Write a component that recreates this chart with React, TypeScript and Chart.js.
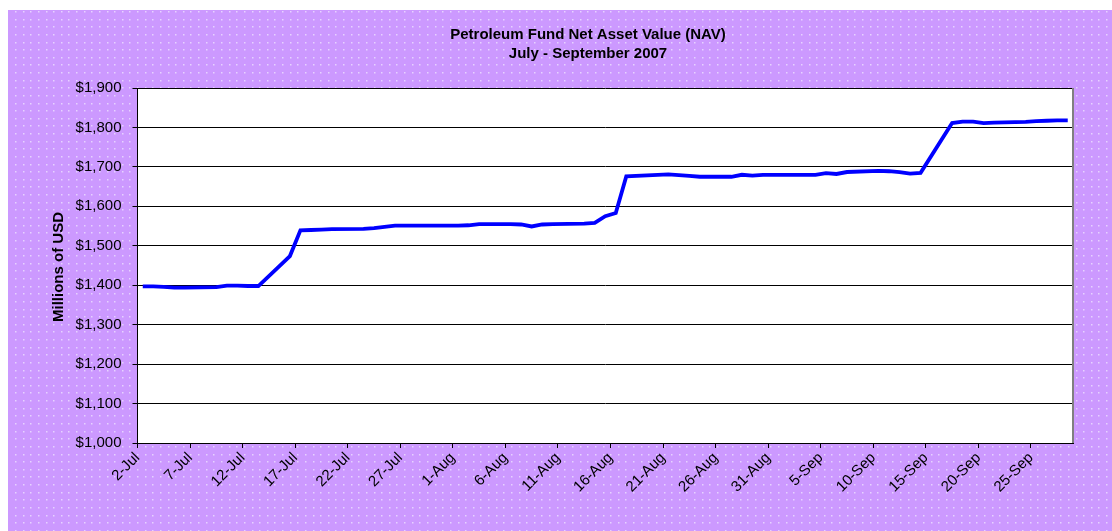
import { useEffect, useRef } from "react";
import { Chart, registerables } from "chart.js";

Chart.register(...registerables);

// Business days, July - September 2007
const dates: string[] = [
  "2007-07-02", "2007-07-03", "2007-07-04", "2007-07-05", "2007-07-06",
  "2007-07-09", "2007-07-10", "2007-07-11", "2007-07-12", "2007-07-13",
  "2007-07-16", "2007-07-17", "2007-07-18", "2007-07-19", "2007-07-20",
  "2007-07-23", "2007-07-24", "2007-07-25", "2007-07-26", "2007-07-27",
  "2007-07-30", "2007-07-31", "2007-08-01", "2007-08-02", "2007-08-03",
  "2007-08-06", "2007-08-07", "2007-08-08", "2007-08-09", "2007-08-10",
  "2007-08-13", "2007-08-14", "2007-08-15", "2007-08-16", "2007-08-17",
  "2007-08-20", "2007-08-21", "2007-08-22", "2007-08-23", "2007-08-24",
  "2007-08-27", "2007-08-28", "2007-08-29", "2007-08-30", "2007-08-31",
  "2007-09-03", "2007-09-04", "2007-09-05", "2007-09-06", "2007-09-07",
  "2007-09-10", "2007-09-11", "2007-09-12", "2007-09-13", "2007-09-14",
  "2007-09-17", "2007-09-18", "2007-09-19", "2007-09-20", "2007-09-21",
  "2007-09-24", "2007-09-25", "2007-09-26", "2007-09-27", "2007-09-28",
];

// NAV, millions of USD
const navValues: number[] = [
  1397, 1397, 1396, 1394, 1394,
  1395, 1399, 1399, 1398, 1398,
  1474, 1539, 1540, 1541, 1542,
  1543, 1545, 1548, 1551, 1551,
  1551, 1551, 1551, 1552, 1555,
  1555, 1554, 1549, 1554, 1555,
  1556, 1558, 1575, 1583, 1676,
  1680, 1681, 1679, 1677, 1675,
  1675, 1680, 1678, 1680, 1680,
  1680, 1680, 1684, 1682, 1687,
  1690, 1689, 1687, 1683, 1685,
  1811, 1815, 1815, 1811, 1812,
  1814, 1816, 1817, 1818, 1818,
];

const tickLabels: string[] = [
  "2-Jul", "7-Jul", "12-Jul", "17-Jul", "22-Jul", "27-Jul",
  "1-Aug", "6-Aug", "11-Aug", "16-Aug", "21-Aug", "26-Aug", "31-Aug",
  "5-Sep", "10-Sep", "15-Sep", "20-Sep", "25-Sep",
];

const titleLines: string[] = ["Petroleum Fund Net Asset Value (NAV)", "July - September 2007"];
const yAxisTitle = "Millions of USD";

const START = Date.UTC(2007, 6, 2);
const dayIndex = (s: string) => {
  const [y, m, d] = s.split("-").map(Number);
  return Math.round((Date.UTC(y, m - 1, d) - START) / 86400000);
};

const FONT = '"Liberation Sans", Arial, sans-serif';
const W = 1104;
const H = 521;

export default function App() {
  const ref = useRef<HTMLCanvasElement>(null);

  useEffect(() => {
    const canvas = ref.current!;
    const bg = {
      id: "bgPattern",
      beforeDraw(chart: any) {
        const ctx = chart.ctx as CanvasRenderingContext2D;
        ctx.save();
        ctx.fillStyle = "#CC99FF";
        ctx.fillRect(0, 0, W, H);
        ctx.fillStyle = "#E6D2FF";
        const step = 7.63;
        for (let y = 1; y < H; y += step) {
          for (let x = 7; x < W; x += step) {
            ctx.fillRect(Math.round(x), Math.round(y), 1.5, 1.5);
          }
        }
        const a = chart.chartArea;
        ctx.fillStyle = "#FFFFFF";
        ctx.fillRect(a.left, a.top, a.right - a.left, a.bottom - a.top);
        ctx.restore();
      },
      beforeDatasetsDraw(chart: any) {
        const ctx = chart.ctx as CanvasRenderingContext2D;
        const a = chart.chartArea;
        ctx.save();
        ctx.strokeStyle = "#808080";
        ctx.lineWidth = 2;
        ctx.beginPath();
        ctx.moveTo(a.right, a.top);
        ctx.lineTo(a.right, a.bottom);
        ctx.stroke();
        ctx.restore();
      },
      afterDraw(chart: any) {
        const ctx = chart.ctx as CanvasRenderingContext2D;
        ctx.save();
        ctx.fillStyle = "#000";
        ctx.font = `bold 15px ${FONT}`;
        ctx.textAlign = "center";
        ctx.textBaseline = "alphabetic";
        ctx.fillText(titleLines[0], 580, 29);
        ctx.fillText(titleLines[1], 580, 48);
        ctx.translate(51, 257);
        ctx.rotate(-Math.PI / 2);
        ctx.textBaseline = "middle";
        ctx.fillText(yAxisTitle, 0, 0);
        ctx.restore();
      },
    };

    const chart = new Chart(canvas, {
      type: "line",
      data: {
        datasets: [
          {
            data: dates.map((d, i) => ({ x: dayIndex(d), y: navValues[i] })),
            borderColor: "#0000FF",
            borderWidth: 3.8,
            pointRadius: 0,
            tension: 0,
            fill: false,
          },
        ],
      },
      options: {
        animation: false,
        responsive: false,
        maintainAspectRatio: false,
        layout: { padding: { left: 0, top: 78, right: 39, bottom: 0 } },
        plugins: {
          legend: { display: false },
          tooltip: { enabled: false },
          title: { display: false },
        },
        scales: {
          x: {
            type: "linear",
            min: -0.5,
            max: 88.5,
            afterBuildTicks: (s: any) => {
              s.ticks = tickLabels.map((_, i) => ({ value: i * 5 - 0.5 }));
            },
            afterFit: (s: any) => {
              s.height = H - 433;
            },
            ticks: {
              autoSkip: false,
              maxRotation: 45,
              minRotation: 45,
              color: "#000",
              padding: 1,
              font: { family: FONT, size: 15 },
              callback: (v: any) => tickLabels[Math.round((Number(v) + 0.5) / 5)] ?? "",
            },
            grid: { drawOnChartArea: false, drawTicks: true, tickLength: 5, color: "#000" },
            border: { color: "#000", width: 1 },
          },
          y: {
            min: 1000,
            max: 1900,
            afterFit: (s: any) => {
              s.width = 129.5;
            },
            ticks: {
              stepSize: 100,
              color: "#000",
              padding: 11,
              font: { family: FONT, size: 15 },
              callback: (v: any) => "$" + Number(v).toLocaleString("en-US"),
            },
            grid: { color: "#000", tickLength: 5, lineWidth: 1 },
            border: { color: "#000", width: 1 },
          },
        },
      },
      plugins: [bg],
    } as any);

    return () => chart.destroy();
  }, []);

  return (
    <div style={{ position: "fixed", left: 8, top: 10, width: W, height: H }}>
      <canvas ref={ref} width={W} height={H} style={{ display: "block", width: W, height: H }} />
    </div>
  );
}
